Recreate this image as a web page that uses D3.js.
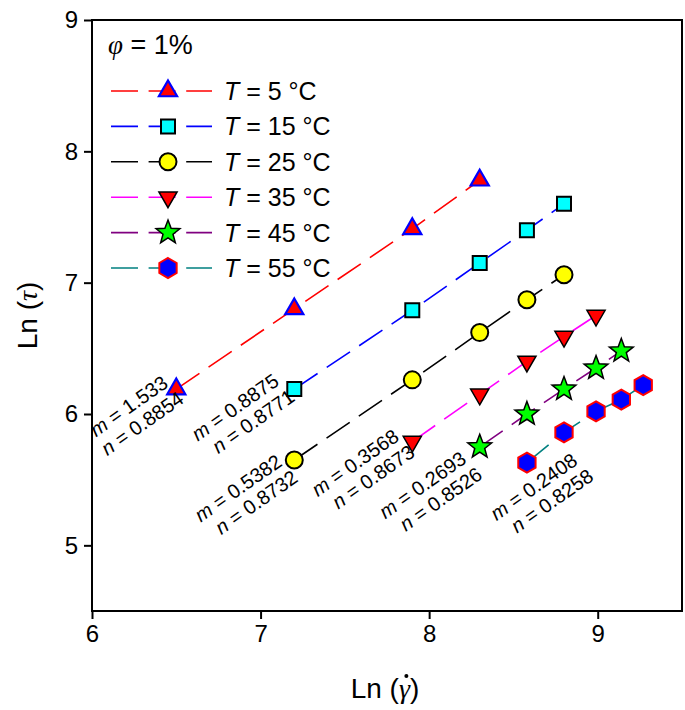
<!DOCTYPE html>
<html>
<head>
<meta charset="utf-8">
<script src="https://cdn.jsdelivr.net/npm/d3@7"></script>
<style>
  html, body { margin: 0; padding: 0; background: #fff; }
  svg { display: block; font-family: "Liberation Sans", Arial, Helvetica, sans-serif; }
</style>
</head>
<body>
<svg id="chart" width="685" height="710"></svg>
<script>
// ---------------- data ----------------
const seriesNames = ["5", "15", "25", "35", "45", "55"];
const x5  = [6.50, 7.20, 7.90, 8.30];
const y5  = [6.19, 6.80, 7.41, 7.78];
const x15 = [7.20, 7.90, 8.30, 8.58, 8.80];
const y15 = [6.19, 6.79, 7.15, 7.40, 7.60];
const x25 = [7.20, 7.90, 8.30, 8.58, 8.80];
const y25 = [5.65, 6.26, 6.62, 6.87, 7.06];
const x35 = [7.90, 8.30, 8.58, 8.80, 8.99];
const y35 = [5.79, 6.15, 6.40, 6.59, 6.75];
const x45 = [8.30, 8.58, 8.80, 8.99, 9.14];
const y45 = [5.75, 6.00, 6.19, 6.35, 6.48];
const x55 = [8.58, 8.80, 8.99, 9.14, 9.27];
const y55 = [5.63, 5.86, 6.02, 6.11, 6.22];
const mValues = ["1.533", "0.8875", "0.5382", "0.3568", "0.2693", "0.2408"];
const nValues = ["0.8854", "0.8771", "0.8732", "0.8673", "0.8526", "0.8258"];
const xTicks = [6, 7, 8, 9];
const yTicks = [5, 6, 7, 8, 9];
const phiLabel = "1%";

// ---------------- layout / styles ----------------
const W = 685, H = 710;
const L = 92, R = 682, T = 20, B = 611;
const xScale = d3.scaleLinear().domain([6, 9.5]).range([L, R]);
const yScale = d3.scaleLinear().domain([4.5, 9]).range([B, T]);

const styles = [
  {line: "#ff0000", shape: "triUp",   fill: "#ff0000", stroke: "#0000ff", sw: 2.2, r: 10.5},
  {line: "#0000ff", shape: "square",  fill: "#00ffff", stroke: "#000000", sw: 2,   r: 7},
  {line: "#000000", shape: "circle",  fill: "#ffff00", stroke: "#000000", sw: 2,   r: 8.5},
  {line: "#ff00ff", shape: "triDown", fill: "#ff0000", stroke: "#000000", sw: 1.5, r: 10.5},
  {line: "#800080", shape: "star",    fill: "#00ff00", stroke: "#000000", sw: 1.5, r: 12.5},
  {line: "#008080", shape: "hex",     fill: "#0000ff", stroke: "#ff0000", sw: 2,   r: 10}
];
// label anchors: pixel offsets from first point of each series (end of "m" line)
const labelOffsets = [[-7, -3], [-14, -5], [-11, 5], [-12, -2], [-12, 15], [52, 1]];

const series = [[x5, y5], [x15, y15], [x25, y25], [x35, y35], [x45, y45], [x55, y55]].map((p, i) => ({
  name: seriesNames[i],
  pts: p[0].map((x, j) => ({x: x, y: p[1][j]})),
  m: mValues[i], n: nValues[i], st: styles[i]
}));

function shapePath(shape, r) {
  const p = d3.path();
  if (shape === "circle") {
    p.moveTo(r, 0); p.arc(0, 0, r, 0, 2 * Math.PI);
  } else if (shape === "square") {
    p.rect(-r, -r, 2 * r, 2 * r);
  } else if (shape === "triUp" || shape === "triDown") {
    const s = shape === "triUp" ? 1 : -1;
    p.moveTo(0, -s * r);
    p.lineTo(r * 0.866, s * r * 0.5);
    p.lineTo(-r * 0.866, s * r * 0.5);
    p.closePath();
  } else if (shape === "star") {
    const ri = r * 0.42;
    for (let k = 0; k < 10; k++) {
      const rr = k % 2 === 0 ? r : ri;
      const a = -Math.PI / 2 + k * Math.PI / 5;
      if (k === 0) p.moveTo(rr * Math.cos(a), rr * Math.sin(a));
      else p.lineTo(rr * Math.cos(a), rr * Math.sin(a));
    }
    p.closePath();
  } else if (shape === "hex") {
    for (let k = 0; k < 6; k++) {
      const a = -Math.PI / 2 + k * Math.PI / 3;
      if (k === 0) p.moveTo(r * Math.cos(a), r * Math.sin(a));
      else p.lineTo(r * Math.cos(a), r * Math.sin(a));
    }
    p.closePath();
  }
  return p.toString();
}

const svg = d3.select("#chart");
svg.append("rect").attr("width", W).attr("height", H).attr("fill", "#fff");

// axes
const xAxis = d3.axisBottom(xScale).tickValues(xTicks).tickSize(8).tickPadding(6).tickFormat(d3.format("d"));
const yAxis = d3.axisLeft(yScale).tickValues(yTicks).tickSize(8).tickPadding(6).tickFormat(d3.format("d"));
const gx = svg.append("g").attr("transform", `translate(0,${B})`).call(xAxis);
const gy = svg.append("g").attr("transform", `translate(${L},0)`).call(yAxis);
[gx, gy].forEach(g => {
  g.select(".domain").remove();
  g.selectAll(".tick line").attr("stroke", "#000").attr("stroke-width", 2);
  g.selectAll(".tick text").attr("fill", "#000").style("font-size", "24px");
});

// frame
svg.append("rect").attr("x", L).attr("y", T).attr("width", R - L).attr("height", B - T)
  .attr("fill", "none").attr("stroke", "#000").attr("stroke-width", 2);

// lines
const line = d3.line().x(d => xScale(d.x)).y(d => yScale(d.y));
const gs = svg.append("g");
series.forEach(s => {
  gs.append("path").datum(s.pts).attr("d", line)
    .attr("fill", "none").attr("stroke", s.st.line).attr("stroke-width", 1.6)
    .attr("stroke-dasharray", "28,11");
});
// markers
series.forEach(s => {
  gs.selectAll(null).data(s.pts).enter().append("path")
    .attr("transform", d => `translate(${xScale(d.x)},${yScale(d.y)})`)
    .attr("d", shapePath(s.st.shape, s.st.r))
    .attr("fill", s.st.fill).attr("stroke", s.st.stroke).attr("stroke-width", s.st.sw)
    .attr("stroke-linejoin", "miter");
});

// annotations
series.forEach((s, i) => {
  const p0 = s.pts[0];
  const ax = xScale(p0.x) + labelOffsets[i][0];
  const ay = yScale(p0.y) + labelOffsets[i][1];
  const t = svg.append("text").attr("transform", `translate(${ax},${ay}) rotate(-35)`)
    .attr("text-anchor", "end").style("font-size", "20px").attr("fill", "#000");
  const l1 = t.append("tspan").attr("x", 0).attr("y", 0);
  l1.append("tspan").style("font-style", "italic").text("m");
  l1.append("tspan").text(" = " + s.m);
  const l2 = t.append("tspan").attr("x", 4).attr("y", 22);
  l2.append("tspan").style("font-style", "italic").text("n");
  l2.append("tspan").text(" = " + s.n);
});

// legend
const lg = svg.append("g");
const phi = lg.append("text").attr("x", 108).attr("y", 54).style("font-size", "27px").attr("fill", "#000");
phi.append("tspan").style("font-style", "italic").style("font-family", "'Liberation Serif', 'Times New Roman', serif").text("φ");
phi.append("tspan").text(" = " + phiLabel);
series.forEach((s, i) => {
  const yy = 91 + i * 35.4;
  lg.append("line").attr("x1", 111).attr("x2", 212).attr("y1", yy).attr("y2", yy)
    .attr("stroke", s.st.line).attr("stroke-width", 1.6).attr("stroke-dasharray", "27,10.6");
  lg.append("path").attr("transform", `translate(168,${yy})`)
    .attr("d", shapePath(s.st.shape, s.st.r))
    .attr("fill", s.st.fill).attr("stroke", s.st.stroke).attr("stroke-width", s.st.sw);
  const tx = lg.append("text").attr("x", 224).attr("y", yy + 9).style("font-size", "25px").attr("fill", "#000");
  tx.append("tspan").style("font-style", "italic").text("T");
  tx.append("tspan").text(" = " + s.name + " °C");
});

// axis titles
const xt = svg.append("text").attr("x", (L + R) / 2 - 2).attr("y", 698).attr("text-anchor", "middle")
  .style("font-size", "28px").attr("fill", "#000");
xt.append("tspan").text("Ln (");
const gam = xt.append("tspan").style("font-style", "italic").style("font-family", "'Liberation Serif', 'Times New Roman', serif").text("γ");
xt.append("tspan").text(")");
const gb = gam.node().getBBox();
svg.append("circle").attr("cx", gb.x + gb.width * 0.62).attr("cy", gb.y + 3).attr("r", 2).attr("fill", "#000");

const yt = svg.append("text").attr("transform", `translate(37,${(T + B) / 2}) rotate(-90)`).attr("text-anchor", "middle")
  .style("font-size", "28px").attr("fill", "#000");
yt.append("tspan").text("Ln (");
yt.append("tspan").style("font-style", "italic").style("font-family", "'Liberation Serif', 'Times New Roman', serif").text("τ");
yt.append("tspan").text(")");
</script>
</body>
</html>
